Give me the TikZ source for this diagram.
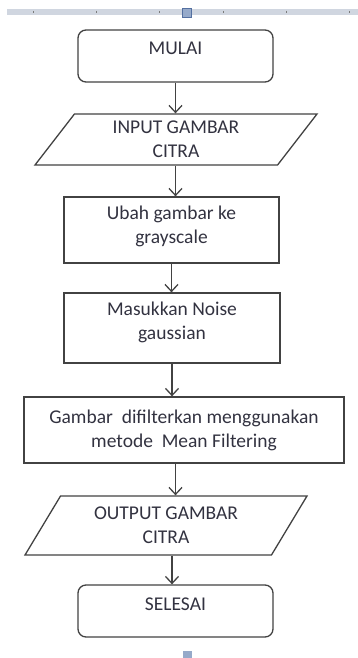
\documentclass[tikz,border=0pt]{standalone}
\usepackage{fontspec}
\setmainfont{Carlito}
\usetikzlibrary{shapes.geometric,arrows.meta}
\definecolor{linegray}{RGB}{66,66,66}
\definecolor{txtgray}{RGB}{50,50,64}
\definecolor{rulerband}{RGB}{208,214,224}
\definecolor{markblue}{RGB}{150,170,202}
\definecolor{markedge}{RGB}{84,112,160}

\begin{document}
\begin{tikzpicture}[x=1pt,y=-1pt,
  every node/.style={font=\fontsize{19.5}{24}\selectfont,text=txtgray},
  terminal/.style={draw=linegray,line width=1.3pt,rounded corners=8pt,
    minimum width=195pt,inner sep=0pt,text height=25pt,text depth=27pt},
  procbox/.style={draw=linegray,line width=1.3pt,align=center,inner sep=0pt},
  iobox/.style={trapezium,draw=linegray,line width=1.3pt,align=center,
    trapezium left angle=#1,trapezium right angle=180-#1,
    trapezium stretches body,inner sep=0pt},
  flow/.style={draw=linegray,line width=1.3pt,-{Straight Barb[length=7pt,width=13pt]}}]
\useasboundingbox (0,0) rectangle (358,658);
\fill[rulerband] (7,9) rectangle (358,15.5);
\foreach \tx in {33,96,159,223,286,349}
  \draw[linegray!70,line width=0.8pt] (\tx,11) -- (\tx,13.5);
\draw[fill=markblue,draw=markedge,line width=0.6pt] (182.5,8.5) rectangle (191.5,17);
\fill[markblue] (183,651) rectangle (192,658);

\node[terminal] (start) at (175.5,56) {MULAI};
\node[iobox=43,minimum width=282pt,minimum height=51pt] (input) at (176,139.5) {INPUT GAMBAR\\CITRA};
\node[procbox,minimum width=215pt,text height=46pt,text depth=20pt] (gray) at (171.5,230) {Ubah gambar ke\\grayscale};
\node[procbox,minimum width=216pt,text height=46pt,text depth=24pt] (noise) at (172,328) {Masukkan Noise\\gaussian};
\node[procbox,minimum width=320pt,minimum height=66pt] (filter) at (184,430) {Gambar\ \ difilterkan menggunakan\\metode\ \ Mean Filtering};
\node[iobox=46,minimum width=282pt,minimum height=59pt] (output) at (166,525.5) {OUTPUT GAMBAR\\CITRA};
\node[terminal] (stop) at (175.5,611) {SELESAI};

\draw[flow] (start.south) -- (start.south |- input.north);
\draw[flow] (input.south -| start) -- (gray.north -| start);
\draw[flow] (gray.south) -- (gray.south |- noise.north);
\draw[flow] (noise.south) -- (noise.south |- filter.north);
\draw[flow] (filter.south -| start) -- (output.north -| start);
\draw[flow] (output.south -| noise) -- (stop.north -| noise);
\end{tikzpicture}
\end{document}
